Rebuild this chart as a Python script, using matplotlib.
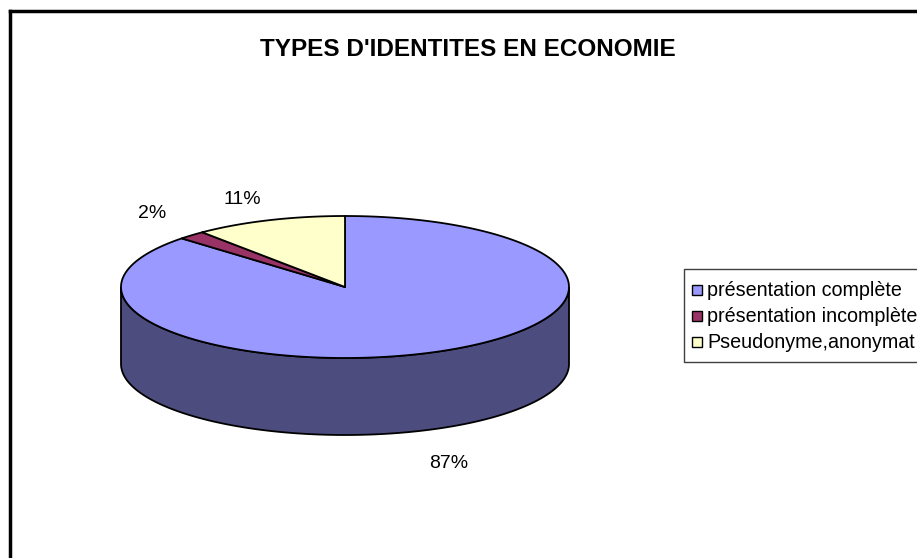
import numpy as np
import matplotlib
matplotlib.use("Agg")
import matplotlib.pyplot as plt
from matplotlib.patches import Polygon, Rectangle

# data
categories = ["présentation complète", "présentation incomplète", "Pseudonyme,anonymat"]
values = [87, 2, 11]
labels = ["87%", "2%", "11%"]
colors = ["#9999FF", "#993366", "#FFFFCC"]
side_colors = ["#4C4C7E", "#4C1933", "#7F7F66"]
title = "TYPES D'IDENTITES EN ECONOMIE"

W, H = 917, 558
fig = plt.figure(figsize=(W / 100, H / 100), dpi=100)
ax = fig.add_axes([0, 0, 1, 1])
ax.set_xlim(0, W)
ax.set_ylim(H, 0)
ax.axis("off")

# pie geometry (pixel units)
cx, cy = 345, 287
a, b = 224, 71
depth = 77


def pt(theta_deg, dy=0.0):
    t = np.radians(theta_deg)
    return cx + a * np.sin(t), cy - b * np.cos(t) + dy


fracs = np.array(values, dtype=float) / sum(values)
bounds = np.concatenate([[0], np.cumsum(fracs) * 360])

# side walls (front half only, 90..270 deg clockwise from top)
for i in range(len(values)):
    lo = max(bounds[i], 90)
    hi = min(bounds[i + 1], 270)
    if hi <= lo:
        continue
    th = np.linspace(lo, hi, 200)
    top = [pt(t) for t in th]
    bot = [pt(t, depth) for t in th[::-1]]
    ax.add_patch(Polygon(top + bot, closed=True, facecolor=side_colors[i],
                         edgecolor="black", lw=1.3, zorder=2))

# top faces
for i in range(len(values)):
    th = np.linspace(bounds[i], bounds[i + 1], 300)
    verts = [(cx, cy)] + [pt(t) for t in th]
    ax.add_patch(Polygon(verts, closed=True, facecolor=colors[i],
                         edgecolor="black", lw=1.3, zorder=3, joinstyle="round"))

# percentage labels
label_pos = [(449, 463), (152, 213), (242, 200)]
for (x, y), s in zip(label_pos, labels):
    ax.text(x, y, s, ha="center", va="center", fontsize=14,
            family="Liberation Sans", zorder=5)

# title
ax.text(468, 50, title, ha="center", va="center", fontsize=17.5,
        fontweight="bold", family="Liberation Sans")

# chart frame (left and top edges only visible)
ax.plot([10, 10], [11, H + 5], color="black", lw=2.5, clip_on=False)
ax.plot([10, W + 5], [11, 11], color="black", lw=2.5, clip_on=False)

# legend
ax.add_patch(Rectangle((684, 269), 300, 93, facecolor="white",
                       edgecolor="#404040", lw=1, zorder=4))
for k, (name, col) in enumerate(zip(categories, colors)):
    yy = 290 + k * 26
    ax.add_patch(Rectangle((692, yy - 5), 10, 10, facecolor=col,
                           edgecolor="black", lw=1, zorder=5))
    ax.text(707, yy, name, ha="left", va="center", fontsize=14.2,
            family="Liberation Sans", zorder=5)

fig.savefig("out.png", dpi=100)
